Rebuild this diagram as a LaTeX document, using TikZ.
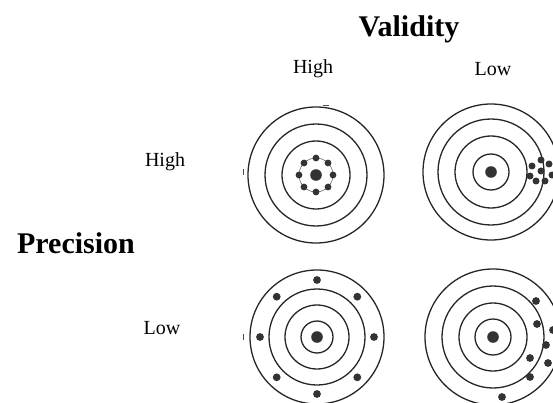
\documentclass[tikz,border=0pt]{standalone}
\usepackage{fontspec}
\setmainfont{Liberation Serif}
\usetikzlibrary{positioning}
\tikzset{
  ring/.style={draw=black!85,line width=1.3pt},
  bull/.style={fill=black!80},
  hit/.style={fill=black!80},
  ttl/.style={font=\fontsize{30}{30}\selectfont\bfseries,anchor=base},
  lbl/.style={font=\fontsize{20}{20}\selectfont,anchor=base},
  tick/.style={draw=black!70,line width=0.8pt},
}

\begin{document}
\begin{tikzpicture}[x=1pt,y=-1pt]
  \clip (0,0) rectangle (553,403);

  % headings
  \node[ttl] (val) at (409,37) {Validity};
  \node[ttl] (pre) at (76,253) {Precision};
  \node[lbl] (vhi) at (313,74) {High};
  \node[lbl] (vlo) at (493,76) {Low};
  \node[lbl] (phi) at (165,167) {High};
  \node[lbl] (plo) at (162,334) {Low};

  % target centres
  \coordinate (tl) at (316,175);
  \coordinate (tr) at (491,172);
  \coordinate (bl) at (317,337);
  \coordinate (br) at (493,337);

  % rings
  \foreach \r in {68,51,34} \draw[ring] (tl) circle[radius=\r pt];
  \draw[draw=black!70,line width=0.5pt] (tl) circle[radius=17pt];
  \foreach \r in {68,53,36,18} \draw[ring] (tr) circle[radius=\r pt];
  \foreach \r in {67,48,32,16} \draw[ring] (bl) circle[radius=\r pt];
  \foreach \r in {68,51,34,18} \draw[ring] (br) circle[radius=\r pt];

  % bulls
  \foreach \c in {tl,tr,bl,br} \fill[bull] (\c) circle[radius=5.8pt];

  % hits: high / high
  \foreach \a in {0,45,...,315}
    \fill[hit] ([shift={(\a:17pt)}]tl) circle[radius=3.4pt];
  % hits: high precision / low validity
  \foreach \p in {(541,160),(549,164),(532,166),(541,171),(530,176),(536,181),(545,181),(552,175)}
    \fill[hit] \p circle[radius=3.5pt];
  % hits: low precision / high validity
  \foreach \a in {0,45,...,315}
    \fill[hit] ([shift={(\a:57pt)}]bl) circle[radius=3.9pt];
  % hits: low / low
  \foreach \p in {(536,301),(537,324),(553,330),(546,345),(530,358),(548,363),(530,377),(502,397)}
    \fill[hit] \p circle[radius=3.9pt];

  % scan marks
  \draw[tick] (243,169) -- (243,175);
  \draw[tick] (243,334) -- (243,340);
  \draw[tick] (323,105) -- (329,105);
\end{tikzpicture}
\end{document}
